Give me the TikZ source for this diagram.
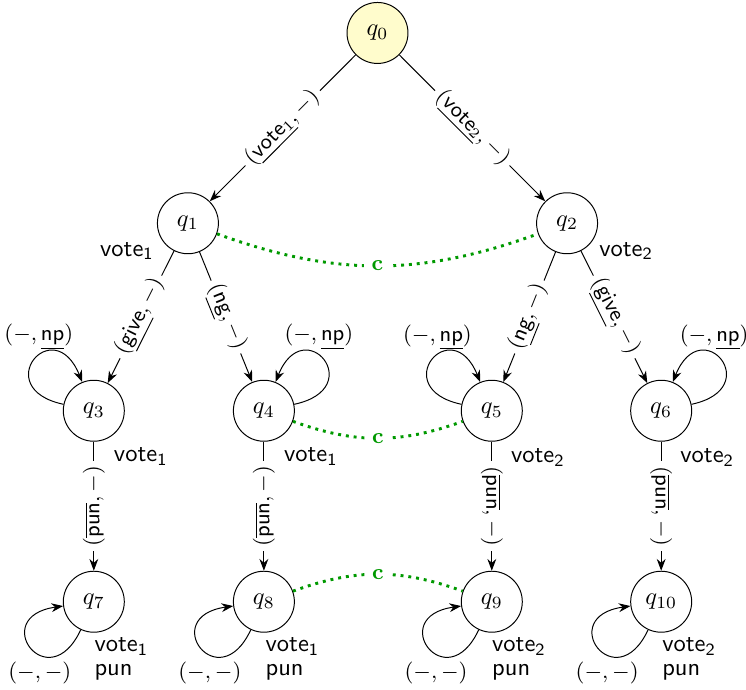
\documentclass[tikz,border=0pt]{standalone}
\usepackage{amsmath}
\usetikzlibrary{arrows.meta}

\begin{document}
\begin{tikzpicture}[
	state/.style={circle, draw, minimum size=0.875cm, inner sep=0pt},
	init/.style={state, fill=yellow!20},
	trans/.style={-{Stealth}},
	elbl/.style={fill=white, font=\small, inner sep=2pt},
	llbl/.style={font=\small, inner sep=1pt},
	stlbl/.style={font=\sffamily, align=left, inner sep=1pt},
	cdot/.style={green!60!black, very thick, dotted},
	cnode/.style={fill=white, text=green!60!black, font=\small\bfseries, inner sep=3pt}
	]
	\useasboundingbox (-5.416,0.473) rectangle (5.287,-9.426);

	% states
	\node[init]  (q0) at (0,0) {$q_0$};
	\node[state] (q1) at (-2.72,-2.73) {$q_1$};
	\node[state] (q2) at (2.72,-2.73) {$q_2$};
	\node[state] (q3) at (-4.07,-5.42) {$q_3$};
	\node[state] (q4) at (-1.63,-5.42) {$q_4$};
	\node[state] (q5) at (1.64,-5.42) {$q_5$};
	\node[state] (q6) at (4.07,-5.42) {$q_6$};
	\node[state] (q7) at (-4.07,-8.16) {$q_7$};
	\node[state] (q8) at (-1.63,-8.16) {$q_8$};
	\node[state] (q9) at (1.64,-8.16) {$q_9$};
	\node[state] (q10) at (4.07,-8.16) {$q_{10}$};

	% state texts
	\node[stlbl] (v1) at ([shift={(-0.875,-0.40)}]q1) {vote\textsubscript{1}};
	\node[stlbl] (v2) at ([shift={(0.846,-0.40)}]q2) {vote\textsubscript{2}};
	\node[stlbl] (v3) at ([shift={(0.674,-0.66)}]q3) {vote\textsubscript{1}};
	\node[stlbl] (v4) at ([shift={(0.674,-0.66)}]q4) {vote\textsubscript{1}};
	\node[stlbl] (v5) at ([shift={(0.66,-0.67)}]q5) {vote\textsubscript{2}};
	\node[stlbl] (v6) at ([shift={(0.66,-0.67)}]q6) {vote\textsubscript{2}};
	\node[stlbl] (v7) at ([shift={(0.395,-0.818)}]q7) {vote\textsubscript{1}\\[-2.2pt]pun};
	\node[stlbl] (v8) at ([shift={(0.41,-0.818)}]q8) {vote\textsubscript{1}\\[-2.2pt]pun};
	\node[stlbl] (v9) at ([shift={(0.39,-0.818)}]q9) {vote\textsubscript{2}\\[-2.2pt]pun};
	\node[stlbl] (v10) at ([shift={(0.40,-0.818)}]q10) {vote\textsubscript{2}\\[-2.2pt]pun};

	% tree edges
	\draw[trans] (q0) -- node[elbl, sloped] {$(\underline{\mathsf{vote}_1},-)$} (q1);
	\draw[trans] (q0) -- node[elbl, sloped] {$(\underline{\mathsf{vote}_2},-)$} (q2);
	\draw[trans] (q1) -- node[elbl, sloped] {$(\underline{\mathsf{give}},-)$} (q3);
	\draw[trans] (q1) -- node[elbl, sloped] {$(\underline{\mathsf{ng}},-)$} (q4);
	\draw[trans] (q2) -- node[elbl, sloped] {$(\underline{\mathsf{ng}},-)$} (q5);
	\draw[trans] (q2) -- node[elbl, sloped] {$(\underline{\mathsf{give}},-)$} (q6);
	\draw[trans] (q3) -- node[elbl, rotate=90] {$(\overline{\mathsf{pun}},-)$} (q7);
	\draw[trans] (q4) -- node[elbl, rotate=90] {$(\overline{\mathsf{pun}},-)$} (q8);
	\draw[trans] (q5) -- node[elbl, rotate=-90] {$(\overline{\mathsf{pun}},-)$} (q9);
	\draw[trans] (q6) -- node[elbl, rotate=-90] {$(\overline{\mathsf{pun}},-)$} (q10);

	% loops
	\draw[trans] (q3) to[out=168, in=112, distance=1.1cm] (q3);
	\draw[trans] (q4) to[out=12, in=68, distance=1.1cm] (q4);
	\draw[trans] (q5) to[out=168, in=112, distance=1.1cm] (q5);
	\draw[trans] (q6) to[out=12, in=68, distance=1.1cm] (q6);
	\draw[trans] (q7) to[out=245, in=188, distance=1.1cm] (q7);
	\draw[trans] (q8) to[out=245, in=188, distance=1.1cm] (q8);
	\draw[trans] (q9) to[out=245, in=188, distance=1.1cm] (q9);
	\draw[trans] (q10) to[out=245, in=188, distance=1.1cm] (q10);

	\node[llbl] (l3) at ([shift={(-0.789,1.062)}]q3) {$(-,\underline{\mathsf{np}})$};
	\node[llbl] (l4) at ([shift={(0.789,1.062)}]q4) {$(-,\underline{\mathsf{np}})$};
	\node[llbl] (l5) at ([shift={(-0.78,1.05)}]q5) {$(-,\underline{\mathsf{np}})$};
	\node[llbl] (l6) at ([shift={(0.76,1.05)}]q6) {$(-,\underline{\mathsf{np}})$};
	\node[llbl] (l7) at ([shift={(-0.775,-1.02)}]q7) {$(-,-)$};
	\node[llbl] (l8) at ([shift={(-0.775,-1.02)}]q8) {$(-,-)$};
	\node[llbl] (l9) at ([shift={(-0.80,-1.02)}]q9) {$(-,-)$};
	\node[llbl] (l10) at ([shift={(-0.775,-1.02)}]q10) {$(-,-)$};

	% c links
	\draw[cdot] (q1) to[bend right=20] node[cnode] (c1) {c} (q2);
	\draw[cdot] (q4) to[bend right=20] node[cnode] (c2) {c} (q5);
	\draw[cdot] (q8) to[bend left=20] node[cnode] (c3) {c} (q9);
\end{tikzpicture}
\end{document}
